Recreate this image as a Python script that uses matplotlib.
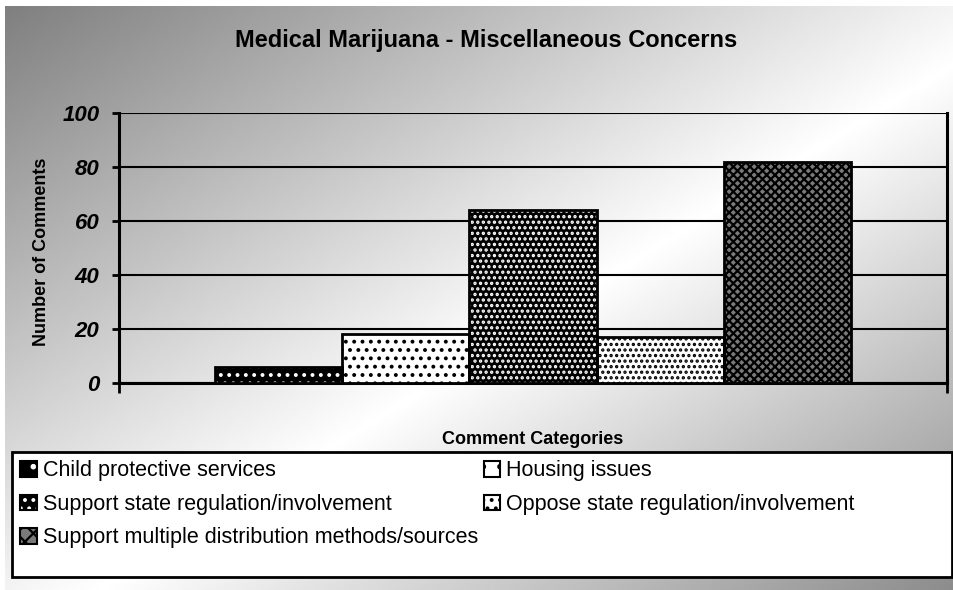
import numpy as np
import matplotlib
matplotlib.use("Agg")
import matplotlib.pyplot as plt
from matplotlib.patches import Rectangle

plt.rcParams['font.family'] = ['Liberation Sans', 'DejaVu Sans']
plt.rcParams['hatch.linewidth'] = 1.6

# data
categories = ['Child protective services', 'Housing issues',
              'Support state regulation/involvement', 'Oppose state regulation/involvement',
              'Support multiple distribution methods/sources']
comments = [6, 18, 64, 17, 82]
yticks = [0, 20, 40, 60, 80, 100]

# pattern fills (face colour, hatch, hatch colour)
faces = ['black', 'white', 'black', 'white', '#7a7a7a']
hatches = ['..', '..', '...', '...', 'xxxx']
hcolors = ['white', 'black', 'white', 'black', 'black']

fig = plt.figure(figsize=(9.54, 5.90), dpi=100)

# diagonal gradient background
bg = fig.add_axes([5 / 954, 0, 949 / 954, 584 / 590], zorder=-5)
bg.axis('off')
gx, gy = np.meshgrid(np.linspace(0, 1, 400), np.linspace(0, 1, 250))
u = (gx + gy) / 2
val = np.where(u < 0.55, 0.5 + 0.5 * u / 0.55, 1.0 - 0.45 * (u - 0.55) / 0.45)
bg.imshow(val, cmap='gray', vmin=0, vmax=1, aspect='auto', extent=[0, 1, 1, 0])
bg.set_xlim(0, 1)
bg.set_ylim(1, 0)

ax = fig.add_axes([119 / 954, 1 - 383 / 590, 828 / 954, 270 / 590])
ax.patch.set_alpha(0)

w = 0.1536
for i, v in enumerate(comments):
    x = (i - 2) * w
    ax.bar(x, v, w, color=faces[i], hatch=hatches[i], edgecolor=hcolors[i], lw=0, zorder=3)
    ax.bar(x, v, w, color='none', edgecolor='black', lw=2, zorder=4)

ax.set_xlim(-0.5, 0.5)
ax.set_ylim(0, 100)
ax.set_yticks(yticks)
ax.set_yticklabels([str(t) for t in yticks], fontsize=16, fontweight='bold', style='italic')
ax.set_xticks([-0.5, 0.5])
ax.set_xticklabels(['', ''])
ax.tick_params(axis='y', direction='out', length=5, width=2, pad=9)
ax.tick_params(axis='x', direction='out', length=7.5, width=2)
ax.yaxis.grid(True, color='black', lw=1.5, zorder=1)
ax.set_axisbelow(True)
ax.spines['top'].set_visible(False)
for s in ['left', 'bottom', 'right']:
    ax.spines[s].set_linewidth(2.2)

fig.text(42 / 954, 1 - 252 / 590, 'Number of Comments', fontsize=13, fontweight='bold',
         rotation=90, ha='center', va='center')
fig.text(533 / 954, 1 - 440 / 590, 'Comment Categories', fontsize=13, fontweight='bold',
         ha='center', va='center')
fig.text(486 / 954, 1 - 40 / 590, 'Medical Marijuana - Miscellaneous Concerns',
         fontsize=17, fontweight='bold', ha='center', va='center')

# legend box
fig.patches.append(Rectangle((12 / 954, 1 - 577 / 590), 940 / 954, 125 / 590,
                             transform=fig.transFigure, facecolor='white',
                             edgecolor='black', lw=2, zorder=1))

# legend, row order like the original
order = [0, 2, 4, 1, 3]
leg_handles = []
for i in order:
    fill = Rectangle((0, 0), 1, 1, facecolor=faces[i], hatch=hatches[i][:1] if i < 2 else hatches[i][:2],
                     edgecolor=hcolors[i], lw=0)
    edge = Rectangle((0, 0), 1, 1, facecolor='none', edgecolor='black', lw=1.5)
    leg_handles.append((fill, edge))
leg = fig.legend(leg_handles, [categories[i] for i in order], ncol=2,
                 loc='upper left', bbox_to_anchor=(14 / 954, 1 - 454 / 590),
                 fontsize=15.5, frameon=False, handlelength=0.75, handleheight=0.75,
                 handletextpad=0.3, labelspacing=0.58, borderaxespad=0, borderpad=0.3,
                 columnspacing=0.25)
leg.set_zorder(2)

fig.savefig('out.png', dpi=100)
